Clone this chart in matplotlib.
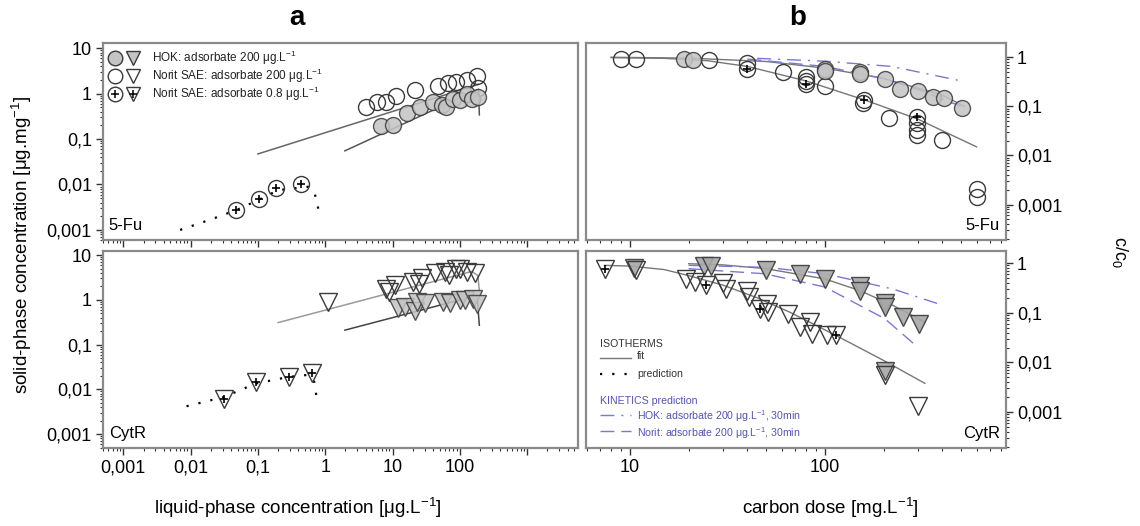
import numpy as np
import matplotlib
matplotlib.use('Agg')
import matplotlib.pyplot as plt
from matplotlib.ticker import FixedLocator, LogLocator, NullFormatter, FuncFormatter

plt.rcParams['font.family'] = ['Liberation Sans Narrow', 'Liberation Sans', 'DejaVu Sans']
plt.rcParams['mathtext.default'] = 'regular'

# ---------------- data ----------------
# panel a, 5-Fu isotherms: liquid-phase conc [ug/L] vs solid-phase conc [ug/mg]
fu_hok_c = [6.7, 10, 16.5, 26, 40, 55, 62, 78, 100, 130, 150, 187]
fu_hok_q = [0.19, 0.20, 0.37, 0.50, 0.67, 0.55, 0.50, 0.76, 0.72, 1.0, 0.75, 0.86]
fu_norit_c = [4.1, 5.8, 8.1, 11.2, 21.5, 47.5, 67, 89, 126, 180, 187]
fu_norit_q = [0.50, 0.67, 0.67, 0.89, 1.2, 1.48, 1.75, 1.84, 2.0, 2.45, 1.36]
fu_low_c = [0.047, 0.105, 0.185, 0.435]
fu_low_q = [0.0028, 0.0047, 0.0085, 0.010]
fu_hok_fit_c = [1.96, 190, 195]
fu_hok_fit_q = [0.055, 1.25, 0.34]
fu_norit_fit_c = [0.1, 190]
fu_norit_fit_q = [0.047, 1.6]
fu_pred_c = [0.007, 0.02, 0.047, 0.1, 0.2, 0.56, 0.70, 0.8]
fu_pred_q = [0.001, 0.0017, 0.0027, 0.0045, 0.0075, 0.0089, 0.0063, 0.0027]

# panel a, CytR isotherms
cyt_hok_c = [12.1, 15.2, 21.5, 22.8, 30, 56.5, 71, 100, 119, 158, 181]
cyt_hok_q = [0.64, 0.70, 0.57, 0.90, 0.87, 0.90, 0.83, 1.0, 0.97, 1.05, 0.8]
cyt_norit_c = [1.1, 8.1, 9.0, 10.8, 20.3, 25, 27, 42.6, 60, 70, 89, 100, 126, 167]
cyt_norit_q = [0.9, 1.7, 1.5, 2.1, 2.5, 2.3, 3.0, 3.9, 4.2, 3.6, 4.8, 5.0, 4.2, 3.9]
cyt_low_c = [0.031, 0.093, 0.29, 0.63]
cyt_low_q = [0.0062, 0.0146, 0.019, 0.023]
cyt_hok_fit_c = [1.96, 180, 195]
cyt_hok_fit_q = [0.21, 1.25, 0.27]
cyt_norit_fit_c = [0.2, 150, 185, 195]
cyt_norit_fit_q = [0.31, 4.3, 3.5, 1.6]
cyt_pred_c = [0.0087, 0.031, 0.093, 0.29, 0.55, 0.68, 0.77]
cyt_pred_q = [0.0042, 0.0067, 0.0135, 0.019, 0.021, 0.016, 0.0049]

# panel b, 5-Fu: carbon dose [mg/L] vs c/c0
fub_hok_d = [18.9, 21, 100, 100, 151, 151, 203, 243, 301, 357, 408, 508]
fub_hok_y = [0.91, 0.88, 0.57, 0.52, 0.49, 0.45, 0.36, 0.23, 0.21, 0.158, 0.15, 0.091]
fub_norit_d = [9.0, 10.8, 25.4, 40, 60.7, 80.5, 80.5, 100, 157, 214, 298, 298, 298, 397, 603, 603]
fub_norit_y = [0.91, 0.91, 0.88, 0.75, 0.49, 0.39, 0.33, 0.26, 0.115, 0.057, 0.045, 0.033, 0.026, 0.021, 0.0021, 0.00144]
fub_low_d = [40, 80, 159, 298]
fub_low_y = [0.57, 0.29, 0.135, 0.060]
fub_hok_fit_d = [8, 20, 50, 100, 200, 400, 520]
fub_hok_fit_y = [1.0, 0.96, 0.82, 0.6, 0.37, 0.17, 0.1]
fub_norit_fit_d = [8, 15, 25, 40, 80, 160, 300, 600]
fub_norit_fit_y = [0.98, 0.95, 0.85, 0.65, 0.33, 0.135, 0.055, 0.015]
fub_hok_kin_d = [45, 100, 220, 500]
fub_hok_kin_y = [0.95, 0.83, 0.65, 0.33]
fub_norit_kin_d = [40, 100, 200, 300, 500]
fub_norit_kin_y = [0.92, 0.65, 0.37, 0.22, 0.10]

# panel b, CytR
cytb_hok_d = [10.5, 23.9, 26.2, 49.6, 74.4, 100, 151, 151, 203, 203, 252, 305, 203]
cytb_hok_y = [0.80, 0.86, 0.86, 0.73, 0.61, 0.48, 0.34, 0.28, 0.16, 0.13, 0.082, 0.06, 0.0067]
cytb_norit_d = [10.7, 19.4, 21.5, 30, 31, 39.7, 41, 50.6, 51.2, 64.8, 74.4, 83.8, 85.5, 102, 203, 301]
cytb_norit_y = [0.71, 0.48, 0.42, 0.40, 0.30, 0.27, 0.21, 0.152, 0.103, 0.095, 0.051, 0.065, 0.038, 0.035, 0.0055, 0.00136]
cytb_low_d = [7.45, 24.7, 46.4, 114]
cytb_low_y = [0.77, 0.355, 0.12, 0.036]
cytb_hok_fit_d = [20, 30, 50, 100, 151, 224, 326]
cytb_hok_fit_y = [0.97, 0.92, 0.77, 0.48, 0.28, 0.14, 0.065]
cytb_norit_fit_d = [7.4, 10, 15, 20, 30, 45, 66, 114, 200, 326]
cytb_norit_fit_y = [0.9, 0.87, 0.74, 0.56, 0.36, 0.2, 0.103, 0.035, 0.011, 0.0038]
cytb_hok_kin_d = [20, 50, 100, 224, 381]
cytb_hok_kin_y = [0.90, 0.82, 0.61, 0.30, 0.152]
cytb_norit_kin_d = [20, 49, 100, 203, 301]
cytb_norit_kin_y = [0.77, 0.61, 0.33, 0.076, 0.02]

# ---------------- styling ----------------
EDGE = '#3a3a3a'
GRAYFILL = '#c4c4c4'
SPINE = '#8a8a8a'
BLUE = '#7a78d6'
BLUETXT = '#5552b0'
MS = 11.5
TICKFS = 13
LABFS = 13.5
LEGFS = 7.6

fig = plt.figure(figsize=(11.4, 5.26), dpi=100)
L_a, R_a = 103/1140, 578/1140
L_b, R_b = 586/1140, 1006/1140
T_top, B_top = 1-43/526, 1-240/526
T_bot, B_bot = 1-251/526, 1-448/526

ax_at = fig.add_axes([L_a, B_top, R_a-L_a, T_top-B_top])
ax_ab = fig.add_axes([L_a, B_bot, R_a-L_a, T_bot-B_bot])
ax_bt = fig.add_axes([L_b, B_top, R_b-L_b, T_top-B_top])
ax_bb = fig.add_axes([L_b, B_bot, R_b-L_b, T_bot-B_bot])


def fmt(v, pos):
    s = f"{v:g}"
    return s.replace('.', ',')


def style(ax, xlim, ylim, xmaj, ymaj, xlabels, right=False):
    ax.set_xscale('log')
    ax.set_yscale('log')
    ax.set_xlim(*xlim)
    ax.set_ylim(*ylim)
    for s in ax.spines.values():
        s.set_color(SPINE)
        s.set_linewidth(1.6)
    ax.xaxis.set_major_locator(FixedLocator(xmaj))
    ax.xaxis.set_minor_locator(LogLocator(base=10, subs=np.arange(2, 10), numticks=50))
    ax.yaxis.set_major_locator(FixedLocator(ymaj))
    ax.yaxis.set_minor_locator(LogLocator(base=10, subs=np.arange(2, 10), numticks=50))
    ax.xaxis.set_minor_formatter(NullFormatter())
    ax.yaxis.set_minor_formatter(NullFormatter())
    if xlabels:
        ax.xaxis.set_major_formatter(FuncFormatter(lambda v, p: fmt(v, p) if v <= 100 else ''))
    else:
        ax.xaxis.set_major_formatter(NullFormatter())
    ax.yaxis.set_major_formatter(FuncFormatter(fmt))
    if right:
        ax.yaxis.tick_right()
    ax.tick_params(which='major', direction='out', length=5, width=1, color='#333333',
                   labelsize=TICKFS, pad=3)
    ax.tick_params(which='minor', direction='out', length=2.5, width=0.8, color='#333333')


def pts(ax, x, y, marker, fill, ms=MS, alpha=1.0, z=3):
    ax.plot(x, y, linestyle='none', marker=marker, markersize=ms,
            markerfacecolor=fill, markeredgecolor=EDGE, markeredgewidth=1.0,
            alpha=alpha, zorder=z)


def plus_pts(ax, x, y, marker, ms=MS):
    pts(ax, x, y, marker, 'none', ms=ms, z=4)
    ax.plot(x, y, linestyle='none', marker='+', markersize=6, markeredgecolor='black',
            markeredgewidth=1.2, zorder=5)


xa_maj = [1e-3, 1e-2, 1e-1, 1, 10, 100, 1000]
ya_maj = [1e-3, 1e-2, 1e-1, 1, 10]
xb_maj = [10, 100, 1000]
yb_maj = [1e-3, 1e-2, 1e-1, 1]

style(ax_at, (5e-4, 5.7e3), (6e-4, 13), xa_maj, ya_maj, False)
style(ax_ab, (5e-4, 5.7e3), (4.9e-4, 12.3), xa_maj, ya_maj, True)
style(ax_bt, (5.95, 850), (1.9e-4, 1.95), xb_maj, yb_maj, False, right=True)
style(ax_bb, (5.95, 850), (1.9e-4, 1.75), xb_maj, yb_maj, True, right=True)

# ---- panel a top: 5-Fu ----
ax = ax_at
ax.plot(fu_norit_fit_c, fu_norit_fit_q, color='#666666', lw=1.1, zorder=2)
ax.plot(fu_hok_fit_c, fu_hok_fit_q, color='#555555', lw=1.1, zorder=2)
ax.plot(fu_pred_c, fu_pred_q, color='black', lw=1.6, linestyle=(0, (1, 4.5)), zorder=2)
pts(ax, fu_norit_c, fu_norit_q, 'o', 'none')
pts(ax, fu_hok_c, fu_hok_q, 'o', GRAYFILL, alpha=0.85)
plus_pts(ax, fu_low_c, fu_low_q, 'o')
ax.text(0.012, 0.035, '5-Fu', transform=ax.transAxes, fontsize=12, ha='left', va='bottom')

# legend (top-left)
leg_rows = [(GRAYFILL, False, 'HOK: adsorbate 200 $\\mu$g.L$^{-1}$'),
            ('none', False, 'Norit SAE: adsorbate 200 $\\mu$g.L$^{-1}$'),
            ('none', True, 'Norit SAE: adsorbate 0.8 $\\mu$g.L$^{-1}$')]
ys = [0.924, 0.832, 0.741]
for (fill, plus, lab), yy in zip(leg_rows, ys):
    for xx, mk in [(0.026, 'o'), (0.064, 'v')]:
        ax.plot([xx], [yy], transform=ax.transAxes, linestyle='none', marker=mk,
                markersize=10.5, markerfacecolor=fill, markeredgecolor=EDGE,
                markeredgewidth=1.0, clip_on=False, zorder=6)
        if plus:
            ax.plot([xx], [yy], transform=ax.transAxes, linestyle='none', marker='+',
                    markersize=5.5, markeredgecolor='black', markeredgewidth=1.1,
                    clip_on=False, zorder=7)
    ax.text(0.103, yy, lab, transform=ax.transAxes, fontsize=8.5, va='center', ha='left',
            color='#222222')

# ---- panel a bottom: CytR ----
ax = ax_ab
ax.plot(cyt_norit_fit_c, cyt_norit_fit_q, color='#9a9a9a', lw=1.1, zorder=2)
ax.plot(cyt_hok_fit_c, cyt_hok_fit_q, color='#444444', lw=1.1, zorder=2)
ax.plot(cyt_pred_c, cyt_pred_q, color='black', lw=1.6, linestyle=(0, (1, 4.5)), zorder=2)
pts(ax, cyt_norit_c, cyt_norit_q, 'v', 'none', ms=12.5)
pts(ax, cyt_hok_c, cyt_hok_q, 'v', GRAYFILL, ms=12.5, alpha=0.85)
plus_pts(ax, cyt_low_c, cyt_low_q, 'v', ms=12.5)
ax.text(0.012, 0.035, 'CytR', transform=ax.transAxes, fontsize=12, ha='left', va='bottom')

# ---- panel b top: 5-Fu ----
ax = ax_bt
ax.plot(fub_hok_fit_d, fub_hok_fit_y, color='#777777', lw=1.0, zorder=2)
ax.plot(fub_norit_fit_d, fub_norit_fit_y, color='#777777', lw=1.0, zorder=2)
ax.plot(fub_hok_kin_d, fub_hok_kin_y, color=BLUE, lw=1.0, dashes=(10, 5, 1.5, 5), zorder=2)
ax.plot(fub_norit_kin_d, fub_norit_kin_y, color=BLUE, lw=1.0, dashes=(10, 5), zorder=2)
pts(ax, fub_norit_d, fub_norit_y, 'o', 'none')
pts(ax, fub_hok_d, fub_hok_y, 'o', GRAYFILL, alpha=0.85)
plus_pts(ax, fub_low_d, fub_low_y, 'o')
ax.text(0.985, 0.035, '5-Fu', transform=ax.transAxes, fontsize=12, ha='right', va='bottom')

# ---- panel b bottom: CytR ----
ax = ax_bb
ax.plot(cytb_hok_fit_d, cytb_hok_fit_y, color='#777777', lw=1.0, zorder=2)
ax.plot(cytb_norit_fit_d, cytb_norit_fit_y, color='#777777', lw=1.0, zorder=2)
ax.plot(cytb_hok_kin_d, cytb_hok_kin_y, color=BLUE, lw=1.0, dashes=(10, 5, 1.5, 5), zorder=2)
ax.plot(cytb_norit_kin_d, cytb_norit_kin_y, color=BLUE, lw=1.0, dashes=(10, 5), zorder=2)
pts(ax, cytb_hok_d, cytb_hok_y, 'v', '#a8a8a8', ms=12.5, alpha=0.9)
pts(ax, cytb_norit_d, cytb_norit_y, 'v', 'none', ms=12.5)
plus_pts(ax, cytb_low_d, cytb_low_y, 'v', ms=12.5)
ax.text(0.985, 0.035, 'CytR', transform=ax.transAxes, fontsize=12, ha='right', va='bottom')

# legend (bottom-left of panel b bottom)
tr = ax.transAxes
ax.text(0.033, 0.528, 'ISOTHERMS', transform=tr, fontsize=LEGFS, va='center', color='#333333')
ax.plot([0.033, 0.108], [0.455, 0.455], transform=tr, color='#777777', lw=1.0)
ax.text(0.122, 0.468, 'fit', transform=tr, fontsize=LEGFS, va='center', color='#333333')
ax.plot([0.033, 0.108], [0.375, 0.375], transform=tr, color='black', lw=1.6,
        linestyle=(0, (1, 4.5)))
ax.text(0.122, 0.378, 'prediction', transform=tr, fontsize=LEGFS, va='center', color='#333333')
ax.text(0.033, 0.24, 'KINETICS prediction', transform=tr, fontsize=LEGFS, va='center', color=BLUETXT)
ax.plot([0.033, 0.108], [0.168, 0.168], transform=tr, color=BLUE, lw=1.0, dashes=(10, 5, 1.5, 5))
ax.text(0.122, 0.160, 'HOK: adsorbate 200 $\\mu$g.L$^{-1}$, 30min', transform=tr, fontsize=LEGFS,
        va='center', color=BLUETXT)
ax.plot([0.033, 0.108], [0.087, 0.087], transform=tr, color=BLUE, lw=1.0, dashes=(10, 5))
ax.text(0.122, 0.077, 'Norit: adsorbate 200 $\\mu$g.L$^{-1}$, 30min', transform=tr, fontsize=LEGFS,
        va='center', color=BLUETXT)

# ---- titles & axis labels ----
fig.text(297/1140, 1-18/526, 'a', fontsize=20, fontweight='bold', ha='center', va='center',
         family=['Liberation Sans', 'DejaVu Sans'])
fig.text(798/1140, 1-18/526, 'b', fontsize=20, fontweight='bold', ha='center', va='center',
         family=['Liberation Sans', 'DejaVu Sans'])
fig.text(22/1140, 1-245/526, 'solid-phase concentration [$\\mu$g.mg$^{-1}$]', rotation=90,
         fontsize=LABFS, ha='center', va='center')
fig.text(298/1140, 1-508/526, 'liquid-phase concentration [$\\mu$g.L$^{-1}$]',
         fontsize=LABFS, ha='center', va='center')
fig.text(830/1140, 1-508/526, 'carbon dose [mg.L$^{-1}$]',
         fontsize=LABFS, ha='center', va='center')
fig.text(1120/1140, 1-252/526, 'c/c$_0$', rotation=-90, fontsize=13, ha='center', va='center')

fig.savefig('out.png', dpi=100)
